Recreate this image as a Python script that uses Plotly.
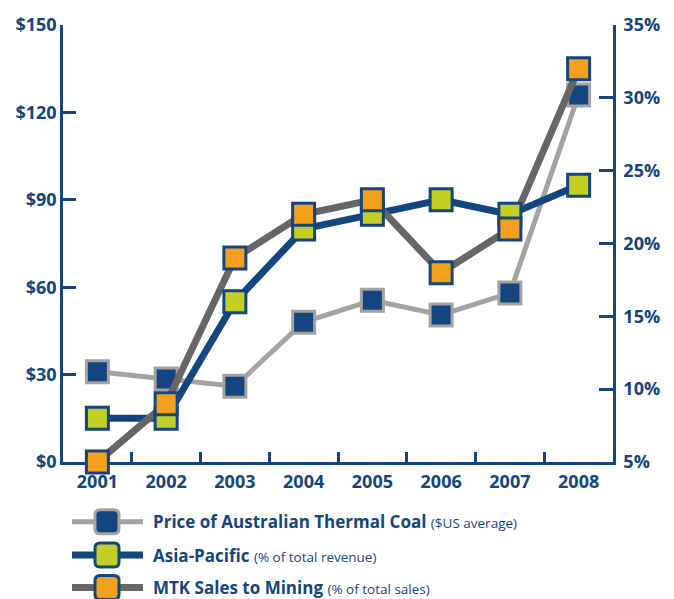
import plotly.graph_objects as go

years = ["2001", "2002", "2003", "2004", "2005", "2006", "2007", "2008"]
coal_price = [31, 28.5, 26, 48, 55.5, 50.5, 58, 126]          # $US average (left axis)
asia_pacific = [8, 8, 16, 21, 22, 23, 22, 24]                  # % of total revenue (right axis)
mtk_mining = [5, 9, 19, 22, 23, 18, 21, 32]                    # % of total sales (right axis)

left_ticks = [0, 30, 60, 90, 120, 150]
left_labels = ["$0", "$30", "$60", "$90", "$120", "$150"]
right_ticks = [5, 10, 15, 20, 25, 30, 35]
right_labels = ["5%", "10%", "15%", "20%", "25%", "30%", "35%"]

legend_main = ["Price of Australian Thermal Coal", "Asia-Pacific", "MTK Sales to Mining"]
legend_sub = ["($US average)", "(% of total revenue)", "(% of total sales)"]

NAVY = "#13467e"
GREEN = "#c3cf24"
ORANGE = "#f5a01d"
LGRAY = "#a3a3a3"
DGRAY = "#666666"
FONT = "Open Sans"

W, H = 674, 599
L, R, T, B = 63, 61, 16, 137
PW, PH = W - L - R, H - T - B

fig = go.Figure()

series = [
    (coal_price, "y", LGRAY, 5, NAVY, LGRAY),
    (asia_pacific, "y2", NAVY, 7, GREEN, NAVY),
    (mtk_mining, "y2", DGRAY, 7, ORANGE, NAVY),
]

# lines first
for vals, ax, lc, lw, mc, mlc in series:
    fig.add_trace(go.Scatter(x=years, y=vals, yaxis=ax, mode="lines",
                             line=dict(color=lc, width=lw), showlegend=False,
                             cliponaxis=False, hoverinfo="skip"))
# markers on top
for vals, ax, lc, lw, mc, mlc in series:
    fig.add_trace(go.Scatter(x=years, y=vals, yaxis=ax, mode="markers",
                             marker=dict(symbol="square", size=22, color=mc,
                                         line=dict(color=mlc, width=3)),
                             showlegend=False, cliponaxis=False))

axis_common = dict(showgrid=False, zeroline=False, showline=True, linecolor=NAVY,
                   linewidth=2.5, ticks="inside", tickcolor=NAVY, tickwidth=2.5,
                   tickfont=dict(family=FONT, size=18, color=NAVY, weight="bold"),
                   layer="below traces")

fig.update_layout(
    width=W, height=H, margin=dict(l=L, r=R, t=T, b=B),
    paper_bgcolor="white", plot_bgcolor="white", showlegend=False,
    xaxis=dict(type="category", categoryorder="array", categoryarray=years,
               range=[-0.5, len(years) - 0.5], tickson="boundaries", ticklen=10,
               ticklabelstandoff=2, **axis_common),
    yaxis=dict(range=[0, 150], tickvals=left_ticks, ticktext=left_labels,
               ticklen=13, ticklabelstandoff=0, **axis_common),
    yaxis2=dict(range=[5, 35], tickvals=right_ticks, ticktext=right_labels,
                overlaying="y", side="right", ticklen=14, ticklabelstandoff=4,
                **axis_common),
)

# custom legend below the plot
rows_px = [523, 557, 590]
line_x0, line_x1, mark_x, text_x = 72, 143, 107, 151
shapes = []
annotations = []
for i, (vals, ax, lc, lw, mc, mlc) in enumerate(series):
    yp = (H - B - rows_px[i]) / PH
    shapes.append(dict(type="line", xref="paper", yref="paper",
                       x0=(line_x0 - L) / PW, x1=(line_x1 - L) / PW, y0=yp, y1=yp,
                       line=dict(color=lc, width=lw)))
    h, r = 12, 5
    path = (f"M{-h+r},{-h} L{h-r},{-h} Q{h},{-h} {h},{-h+r} L{h},{h-r} Q{h},{h} {h-r},{h} "
            f"L{-h+r},{h} Q{-h},{h} {-h},{h-r} L{-h},{-h+r} Q{-h},{-h} {-h+r},{-h} Z")
    shapes.append(dict(type="path", xref="paper", yref="paper",
                       xsizemode="pixel", ysizemode="pixel",
                       xanchor=(mark_x - L) / PW, yanchor=yp, path=path,
                       fillcolor=mc, line=dict(color=mlc, width=3)))
    annotations.append(dict(
        xref="paper", yref="paper", x=(text_x - L) / PW, y=yp, xanchor="left",
        yanchor="middle", showarrow=False,
        text=f"<b>{legend_main[i]}</b> <span style='font-size:13.5px'>{legend_sub[i]}</span>",
        font=dict(family=FONT, size=17, color=NAVY)))

fig.update_layout(shapes=shapes, annotations=annotations)
fig.write_html("out.html")
